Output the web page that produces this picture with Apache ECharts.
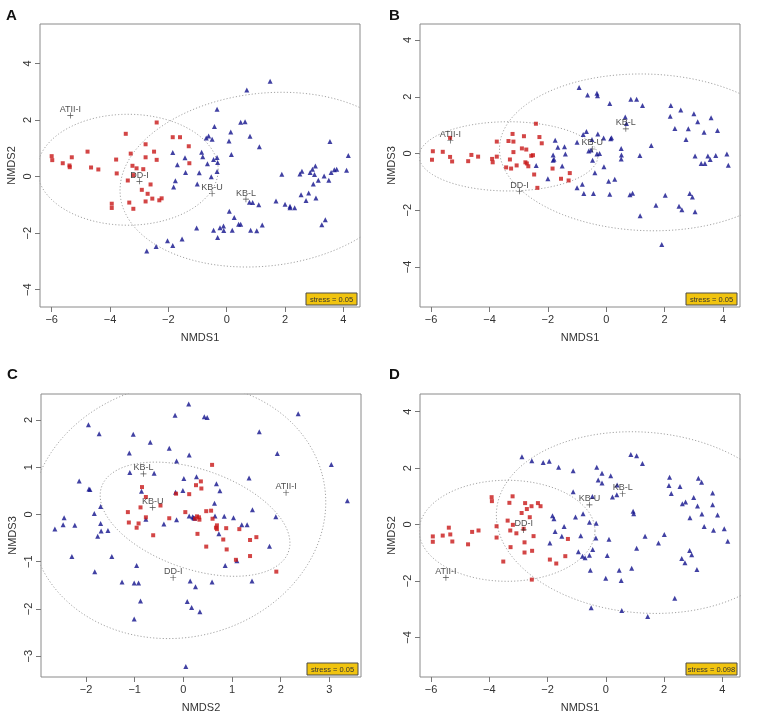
<!DOCTYPE html>
<html><head><meta charset="utf-8">
<script src="https://cdn.jsdelivr.net/npm/echarts@6/dist/echarts.min.js"></script>
<style>html,body{margin:0;padding:0;background:#fff}#c{width:758px;height:724px}</style>
</head><body><div id="c"></div>
<script>
// ---------- labels ----------
const panelLetters = ['A', 'B', 'C', 'D'];
const groupLabels = ['ATII-I', 'DD-I', 'KB-U', 'KB-L'];
const xAxisNames = ['NMDS1', 'NMDS1', 'NMDS2', 'NMDS1'];
const yAxisNames = ['NMDS2', 'NMDS3', 'NMDS3', 'NMDS2'];
const stressLabels = ['stress = 0.05', 'stress = 0.05', 'stress = 0.05', 'stress = 0.098'];

// ---------- tick labels ----------
const ticksNMDS1 = [-6, -4, -2, 0, 2, 4];
const ticksNMDS23 = [-4, -2, 0, 2, 4];
const ticksC_x = [-2, -1, 0, 1, 2, 3];
const ticksC_y = [-3, -2, -1, 0, 1, 2];

// ---------- axis limits [xmin, xmax, ymin, ymax] ----------
const limitsA = [-6.40, 4.57, -4.61, 5.39];
const limitsB = [-6.38, 4.58, -5.41, 4.565];
const limitsC = [-2.925, 3.65, -3.44, 2.55];
const limitsD = [-6.38, 4.61, -5.40, 4.625];

// ---------- Panel A (NMDS1 vs NMDS2) ----------
const redA = [[-6.00,0.72],[-5.98,0.58],[-5.62,0.47],[-5.39,0.39],[-5.38,0.33],[-5.31,0.68],[-4.77,0.88],[-4.65,0.32],[-4.40,0.25],[-3.79,0.60],[-3.77,0.11],[-3.46,1.51],[-3.39,-0.14],[-3.29,0.81],[-3.23,0.38],[-3.09,0.29],[-2.86,0.26],[-2.78,1.14],[-2.78,0.68],[-2.49,0.88],[-2.40,1.91],[-2.40,0.59],[-1.85,1.39],[-1.60,1.39],[-1.30,1.07],[-1.28,0.47],[-2.61,-0.28],[-2.91,-0.47],[-2.71,-0.61],[-2.55,-0.78],[-2.78,-0.88],[-2.31,-0.84],[-2.23,-0.77],[-3.34,-0.92],[-3.94,-0.96],[-3.94,-1.11],[-3.20,-1.14],[-3.20,0.05]];
const blueA = [[-2.74,-2.63],[-2.42,-2.47],[-2.03,-2.27],[-1.85,-2.44],[-1.53,-2.21],[-1.03,-1.82],[-0.31,-2.15],[-0.45,-1.90],[-0.23,-1.81],[-0.11,-1.75],[-0.10,-1.91],[0.09,-1.23],[0.19,-1.90],[0.26,-1.45],[0.41,-1.69],[0.48,-1.69],[0.82,-1.90],[1.03,-1.92],[1.22,-1.71],[0.78,-0.91],[0.89,-0.92],[1.10,-1.00],[1.69,-0.86],[2.00,-0.98],[2.17,-1.05],[2.17,-1.10],[2.33,-1.10],[2.55,-0.64],[2.72,-0.85],[2.81,-0.58],[3.06,-0.76],[3.26,-1.70],[3.38,-1.53],[3.50,-0.13],[3.01,0.07],[2.97,-0.26],[3.14,-0.13],[2.86,0.14],[2.94,0.26],[3.04,0.37],[2.51,0.09],[2.58,0.19],[3.34,0.02],[3.58,0.14],[3.69,0.24],[3.77,0.26],[4.11,0.22],[4.17,0.74],[3.54,1.24],[1.89,0.08],[1.12,1.05],[0.80,1.42],[0.48,1.92],[0.63,1.94],[0.08,1.26],[0.14,1.57],[0.16,0.78],[0.69,3.06],[1.49,3.37],[-0.33,2.38],[-0.42,1.77],[-0.62,1.43],[-0.70,1.36],[-0.50,1.32],[-0.86,0.86],[-0.82,0.70],[-0.33,0.67],[-0.31,0.50],[-0.66,0.45],[-0.45,0.60],[-0.94,0.13],[-0.53,-0.01],[-0.33,0.18],[-1.01,-0.26],[-1.85,0.85],[-1.69,0.42],[-1.43,0.66],[-1.41,0.14],[-1.76,-0.15],[-1.82,-0.37]];
const centroidsA = [[-5.36,2.16],[-2.99,-0.17],[-0.50,-0.60],[0.66,-0.80]];
// ellipse: [cx, cy, semi-axis a, semi-axis b, rotation deg]
const ellipsesA = [[-3.39,0.24,3.10,1.96,0],[1.29,-0.11,4.97,3.05,7]];

// ---------- Panel B (NMDS1 vs NMDS3) ----------
const redB = [[-5.94,0.08],[-5.97,-0.22],[-5.60,0.06],[-5.35,-0.12],[-5.28,-0.28],[-5.35,0.55],[-4.73,-0.27],[-4.62,-0.05],[-4.39,-0.11],[-3.91,-0.19],[-3.89,-0.31],[-3.75,-0.11],[-3.75,0.42],[-3.43,-0.49],[-3.35,0.44],[-3.30,-0.21],[-3.21,0.69],[-3.18,0.42],[-3.18,0.05],[-3.26,-0.53],[-3.07,-0.42],[-2.89,0.18],[-2.82,0.61],[-2.74,0.14],[-2.77,-0.31],[-2.72,-0.35],[-2.67,-0.45],[-2.57,-0.08],[-2.51,-0.06],[-2.47,-0.74],[-2.41,1.05],[-2.36,-1.21],[-2.29,0.58],[-2.21,0.36],[-1.84,-0.53],[-1.55,-0.89],[-1.29,-0.95],[-1.25,-0.69]];
const blueB = [[-0.93,2.33],[-0.64,2.06],[-0.32,2.12],[-0.30,2.04],[0.12,1.76],[0.84,1.91],[1.04,1.91],[1.24,1.69],[0.65,1.29],[0.69,1.06],[2.21,1.69],[2.19,1.31],[2.55,1.53],[2.35,0.88],[3.00,1.40],[3.13,1.12],[3.59,1.26],[3.81,0.81],[2.81,0.87],[2.73,0.49],[3.35,0.75],[1.54,0.28],[-0.79,0.67],[-0.68,0.78],[-0.49,0.49],[-0.29,0.69],[-0.09,0.55],[0.15,0.52],[0.18,0.56],[-1.00,0.40],[-1.75,0.47],[-1.66,0.22],[-1.43,0.24],[-1.40,-0.02],[-1.82,-0.05],[-1.82,-0.24],[-1.79,-0.20],[-1.51,-0.44],[-2.40,-0.42],[-2.00,-0.89],[-1.00,-1.21],[-0.82,-1.08],[-0.52,0.12],[-0.60,0.09],[-0.47,-0.24],[-0.32,-0.02],[-0.23,0.00],[-0.08,-0.47],[-0.39,-0.68],[-0.77,-1.41],[-0.44,-1.41],[0.08,-0.98],[0.29,-0.91],[0.12,-1.44],[0.51,0.18],[0.52,-0.05],[0.51,-0.19],[1.15,-0.07],[0.90,-1.40],[0.81,-1.45],[1.16,-2.19],[1.70,-1.82],[2.02,-1.47],[2.49,-1.86],[2.59,-1.98],[2.86,-1.41],[2.95,-1.53],[3.04,-2.05],[3.04,-0.09],[3.25,-0.35],[3.38,-0.35],[3.48,-0.09],[3.56,-0.21],[3.75,-0.07],[4.13,-0.02],[4.18,-0.41],[1.90,-3.21]];
const centroidsB = [[-5.34,0.46],[-2.97,-1.33],[-0.48,0.16],[0.67,0.87]];
const ellipsesB = [[-3.35,-0.10,3.06,1.22,0],[1.40,0.04,5.06,2.76,-2]];

// ---------- Panel C (NMDS2 vs NMDS3) ----------
const redC = [[-1.14,0.05],[-1.12,-0.17],[-0.96,-0.28],[-0.92,-0.19],[-0.88,0.15],[-0.85,0.58],[-0.77,0.37],[-0.77,-0.06],[-0.47,0.19],[-0.62,-0.44],[-0.29,-0.08],[-0.15,0.44],[0.04,0.05],[0.12,0.43],[0.24,-0.09],[0.26,0.62],[0.28,-0.04],[0.32,-0.06],[0.33,-0.11],[0.29,-0.41],[0.36,0.70],[0.37,0.55],[0.47,0.07],[0.47,-0.68],[0.57,0.08],[0.59,1.05],[0.60,-0.09],[0.69,-0.23],[0.67,-0.28],[0.69,-0.31],[0.82,-0.53],[0.88,-0.29],[0.89,-0.74],[1.15,-0.31],[1.08,-0.96],[1.37,-0.54],[1.37,-0.88],[1.50,-0.48],[1.91,-1.21]];
const blueC = [[-2.64,-0.31],[-2.45,-0.07],[-2.47,-0.22],[-2.29,-0.89],[-2.23,-0.23],[-2.14,0.71],[-1.95,1.90],[-1.94,0.54],[-1.92,0.53],[-1.83,0.02],[-1.82,-1.21],[-1.76,-0.46],[-1.73,1.71],[-1.70,0.17],[-1.70,-0.19],[-1.69,-0.35],[-1.55,-0.34],[-1.47,-0.89],[-1.26,-1.43],[-1.11,1.30],[-1.10,0.89],[-1.03,1.70],[-1.01,-1.45],[-1.01,-2.21],[-0.96,-1.08],[-0.92,-1.45],[-0.88,-1.83],[-0.86,0.49],[-0.77,-0.10],[-0.68,1.53],[-0.60,0.87],[-0.40,-0.20],[-0.29,1.40],[-0.17,2.10],[-0.16,0.47],[-0.14,1.13],[-0.14,-0.11],[-0.01,0.51],[0.01,0.76],[0.11,2.34],[0.12,1.26],[0.12,-0.03],[0.14,-1.41],[0.19,-0.05],[0.21,-0.07],[0.23,-0.08],[0.25,-1.53],[0.27,0.80],[0.08,-1.84],[0.17,-1.97],[0.34,-2.06],[0.43,2.07],[0.49,2.05],[0.59,-1.43],[0.64,0.24],[0.65,-0.03],[0.68,0.65],[0.73,-0.41],[0.75,0.50],[0.84,-0.04],[0.86,-1.08],[1.10,-0.98],[1.03,-0.07],[1.20,-0.22],[1.31,-0.22],[1.35,0.77],[1.42,0.10],[1.41,-1.41],[1.56,1.75],[1.77,-0.67],[1.90,-0.05],[1.93,1.29],[2.36,2.13],[3.04,1.06],[3.37,0.29],[0.05,-3.22]];
const centroidsC = [[2.11,0.46],[-0.21,-1.34],[-0.63,0.15],[-0.82,0.86]];
const ellipsesC = [[0.24,-0.10,2.04,1.05,-20],[-0.11,0.08,3.06,2.68,15]];

// ---------- Panel D (NMDS1 vs NMDS2, 2-D solution) ----------
const redD = [[-5.94,-0.42],[-5.94,-0.61],[-5.60,-0.39],[-5.39,-0.11],[-5.34,-0.35],[-5.27,-0.60],[-4.73,-0.70],[-4.59,-0.26],[-4.37,-0.21],[-3.92,0.97],[-3.91,0.83],[-3.75,-0.06],[-3.75,-0.46],[-3.52,-1.31],[-3.37,0.14],[-3.31,0.77],[-3.28,-0.21],[-3.20,1.00],[-3.19,-0.01],[-3.27,-0.80],[-3.07,-0.31],[-2.89,0.41],[-2.79,-0.63],[-2.79,-0.99],[-2.77,0.76],[-2.71,0.55],[-2.55,0.65],[-2.61,0.26],[-2.53,-0.93],[-2.48,-0.41],[-2.33,0.76],[-2.24,0.65],[-1.92,-1.24],[-1.70,-1.38],[-1.39,-1.12],[-1.30,-0.51],[-2.54,-1.95],[-2.82,-0.15]];
const blueD = [[-2.88,2.40],[-2.54,2.26],[-2.15,2.20],[-1.94,2.24],[-1.62,2.03],[-1.12,1.91],[-0.31,2.03],[-0.13,1.82],[-0.26,1.58],[-0.13,1.47],[0.17,1.73],[0.86,2.48],[1.06,2.44],[1.26,2.16],[-1.12,1.16],[0.39,1.40],[0.38,1.06],[0.23,0.98],[-0.46,0.99],[-0.78,0.38],[-1.04,0.27],[0.94,0.47],[0.96,0.38],[2.19,1.68],[2.17,1.38],[2.25,1.10],[2.55,1.35],[2.63,0.74],[2.74,0.80],[3.02,0.96],[3.15,0.66],[3.18,1.64],[3.29,1.50],[3.67,1.12],[3.67,0.70],[3.84,0.34],[3.30,0.37],[2.89,0.24],[3.38,-0.07],[3.70,-0.20],[4.07,-0.15],[4.19,-0.59],[2.88,-0.92],[2.95,-1.07],[2.61,-1.20],[2.72,-1.35],[3.13,-1.59],[2.37,-2.61],[1.35,-0.41],[1.81,-0.65],[2.01,-0.35],[1.06,-0.84],[0.89,-1.55],[0.46,-1.62],[0.53,-1.98],[0.00,-1.90],[0.05,-1.10],[-0.53,-1.62],[-0.56,-1.09],[-0.71,-1.18],[-0.80,-1.12],[-0.50,-2.95],[0.55,-3.04],[1.44,-3.26],[0.11,-0.52],[-0.34,-0.48],[-0.45,-0.88],[-0.33,0.05],[-0.56,0.08],[-0.86,-0.40],[-0.94,-0.96],[-1.83,0.31],[-1.78,0.21],[-1.74,-0.25],[-1.51,-0.41],[-1.43,-0.07],[-1.92,-0.65]];
const centroidsD = [[-5.49,-1.88],[-2.82,-0.19],[-0.56,0.70],[0.58,1.09]];
const ellipsesD = [[-3.39,-0.22,3.02,1.79,0],[1.30,0.07,5.07,3.20,-5]];

// ---------- layout / style ----------
const FONT = '"Liberation Sans", Arial, Helvetica, sans-serif';
const RED = '#c81818', BLUE = '#12128c';
const grids = [
  {left: 40, top: 24, width: 320, height: 283},
  {left: 420, top: 24, width: 320, height: 283},
  {left: 41, top: 394, width: 320, height: 283},
  {left: 420, top: 394, width: 320, height: 283}
];
const panels = [
  {lim: limitsA, xt: ticksNMDS1, yt: ticksNMDS23, red: redA, blue: blueA, cen: centroidsA, ell: ellipsesA},
  {lim: limitsB, xt: ticksNMDS1, yt: ticksNMDS23, red: redB, blue: blueB, cen: centroidsB, ell: ellipsesB},
  {lim: limitsC, xt: ticksC_x, yt: ticksC_y, red: redC, blue: blueC, cen: centroidsC, ell: ellipsesC},
  {lim: limitsD, xt: ticksNMDS1, yt: ticksNMDS23, red: redD, blue: blueD, cen: centroidsD, ell: ellipsesD}
];

function ellipsePath(p) {
  const [cx, cy, a, b, deg] = p;
  const th = deg * Math.PI / 180, pts = [];
  for (let i = 0; i <= 180; i++) {
    const t = i / 180 * 2 * Math.PI;
    pts.push([cx + a * Math.cos(t) * Math.cos(th) - b * Math.sin(t) * Math.sin(th),
              cy + a * Math.cos(t) * Math.sin(th) + b * Math.sin(t) * Math.cos(th)]);
  }
  return pts;
}
const minus = v => String(v).replace('-', '\u2212');
const PLUS = 'path://M4,0h1v9h-1z M0,4h9v1h-9z';

const xAxes = [], yAxes = [], series = [], graphics = [];
panels.forEach((p, i) => {
  xAxes.push({
    type: 'value', gridIndex: i, min: p.lim[0], max: p.lim[1],
    axisLine: {show: false, onZero: false}, splitLine: {show: false},
    axisTick: {show: true, customValues: p.xt, length: 5, lineStyle: {color: '#777'}},
    axisLabel: {customValues: p.xt, formatter: minus, margin: 7, fontSize: 11, color: '#333', fontFamily: FONT},
    name: xAxisNames[i], nameLocation: 'middle', nameGap: 25,
    nameTextStyle: {fontSize: 11, color: '#333', fontFamily: FONT}
  });
  yAxes.push({
    type: 'value', gridIndex: i, min: p.lim[2], max: p.lim[3],
    axisLine: {show: false, onZero: false}, splitLine: {show: false},
    axisTick: {show: true, customValues: p.yt, length: 5, lineStyle: {color: '#777'}},
    axisLabel: {customValues: p.yt, formatter: minus, rotate: 90, margin: 7, fontSize: 11, color: '#333', fontFamily: FONT},
    name: yAxisNames[i], nameLocation: 'middle', nameGap: 23, nameRotate: 90,
    nameTextStyle: {fontSize: 11, color: '#333', fontFamily: FONT}
  });
  p.ell.forEach(e => series.push({
    type: 'line', xAxisIndex: i, yAxisIndex: i, data: ellipsePath(e), showSymbol: false,
    smooth: false, silent: true, clip: true, z: 1,
    lineStyle: {color: '#a3a3a3', width: 1, type: [1.2, 2]}
  }));
  series.push({
    type: 'scatter', xAxisIndex: i, yAxisIndex: i, data: p.blue, symbol: 'triangle',
    symbolSize: [5, 5], itemStyle: {color: BLUE}, z: 3
  });
  series.push({
    type: 'scatter', xAxisIndex: i, yAxisIndex: i, data: p.red, symbol: 'rect',
    symbolSize: 4, itemStyle: {color: RED}, z: 3
  });
  series.push({
    type: 'scatter', xAxisIndex: i, yAxisIndex: i, symbol: PLUS, symbolSize: 6,
    itemStyle: {color: '#222'}, z: 4,
    data: p.cen.map((c, k) => ({name: groupLabels[k], value: c})),
    label: {show: true, formatter: '{b}', position: 'inside', offset: [0, -6],
            fontSize: 9, color: '#222', fontFamily: FONT}
  });
  const g = grids[i];
  graphics.push({
    type: 'text', left: g.left - (i % 2 === 1 ? 31 : 34), top: g.top - (i >= 2 ? 27 : 16),
    style: {text: panelLetters[i], font: 'bold 15px ' + FONT, fill: '#111'}
  });
  const bx = g.left + g.width - 54, by = g.top + g.height - 14;
  graphics.push({
    type: 'group', x: bx, y: by, children: [
      {type: 'rect', shape: {x: 0, y: 0, width: 51, height: 12},
       style: {fill: '#f1c40f', stroke: '#4a4a4a', lineWidth: 1}},
      {type: 'text', x: 25.5, y: 6.5,
       style: {text: stressLabels[i], font: '7.5px ' + FONT, fill: '#333', align: 'center', verticalAlign: 'middle'}}
    ]
  });
});

const chart = echarts.init(document.getElementById('c'), null, {renderer: 'canvas'});
chart.setOption({
  animation: false,
  backgroundColor: '#fff',
  grid: grids.map(g => Object.assign({show: true, borderColor: '#8a8a8a', borderWidth: 1, backgroundColor: 'transparent'}, g)),
  xAxis: xAxes, yAxis: yAxes, series: series, graphic: graphics
});
</script></body></html>
